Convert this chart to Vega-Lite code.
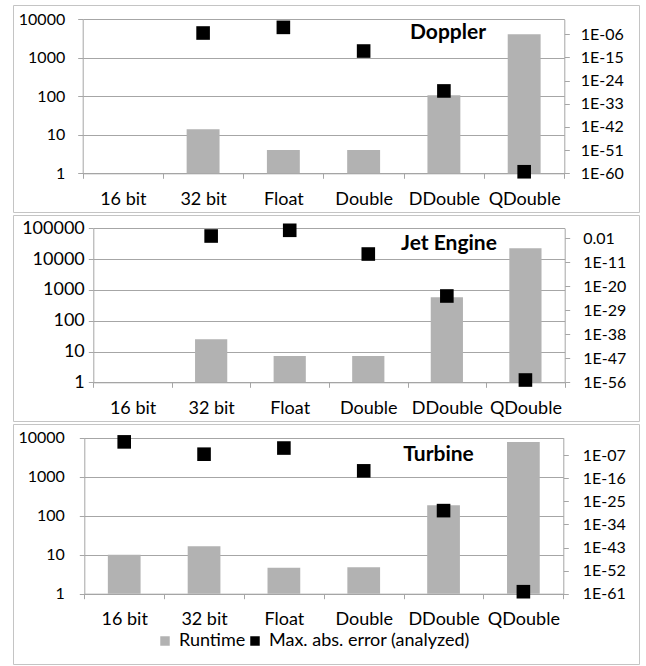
{
  "$schema": "https://vega.github.io/schema/vega-lite/v6.json",
  "background": "white",
  "padding": {"left": 12, "top": 4, "right": 8, "bottom": 1},
  "data": {"values": [
    {"panel": "Doppler", "precision": "16 bit", "runtime": null, "error": null},
    {"panel": "Doppler", "precision": "32 bit", "runtime": 13.9, "error": 3.2e-6},
    {"panel": "Doppler", "precision": "Float", "runtime": 4.0, "error": 5e-4},
    {"panel": "Doppler", "precision": "Double", "runtime": 4.0, "error": 3.2e-13},
    {"panel": "Doppler", "precision": "DDouble", "runtime": 106, "error": 1e-28},
    {"panel": "Doppler", "precision": "QDouble", "runtime": 4075, "error": 4e-60},
    {"panel": "Jet Engine", "precision": "16 bit", "runtime": null, "error": null},
    {"panel": "Jet Engine", "precision": "32 bit", "runtime": 25, "error": 0.072},
    {"panel": "Jet Engine", "precision": "Float", "runtime": 7.1, "error": 10},
    {"panel": "Jet Engine", "precision": "Double", "runtime": 7.1, "error": 1.26e-8},
    {"panel": "Jet Engine", "precision": "DDouble", "runtime": 575, "error": 2.3e-24},
    {"panel": "Jet Engine", "precision": "QDouble", "runtime": 22400, "error": 7.2e-56},
    {"panel": "Turbine", "precision": "16 bit", "runtime": 10, "error": 0.016},
    {"panel": "Turbine", "precision": "32 bit", "runtime": 16.4, "error": 2.5e-7},
    {"panel": "Turbine", "precision": "Float", "runtime": 4.6, "error": 6.3e-5},
    {"panel": "Turbine", "precision": "Double", "runtime": 4.8, "error": 8e-14},
    {"panel": "Turbine", "precision": "DDouble", "runtime": 185, "error": 2.5e-29},
    {"panel": "Turbine", "precision": "QDouble", "runtime": 7780, "error": 6e-61}
  ]},
  "spacing": 1,
  "vconcat": [
    {
      "width": 626, "height": 207,
      "title": {"text": "Doppler", "frame": "group", "anchor": "middle", "orient": "top", "offset": -49, "dx": 122, "baseline": "middle", "font": "Lato", "fontSize": 21, "fontWeight": "bold", "color": "#000"},
      "transform": [{"filter": "datum.panel === 'Doppler'"}],
      "layer": [
        {
          "mark": {"type": "bar", "color": "#b2b2b2", "width": {"band": 0.41}},
          "encoding": {
            "x": {"field": "precision", "type": "nominal", "sort": null,
              "scale": {"domain": ["16 bit", "32 bit", "Float", "Double", "DDouble", "QDouble"], "range": [69.7, 551.3], "paddingInner": 0, "paddingOuter": 0},
              "axis": {"title": null, "orient": "bottom", "offset": -38.7, "tickBand": "extent", "labelAngle": 0, "grid": false, "labelPadding": 12, "labelFontSize": 18}},
            "y": {"field": "runtime", "type": "quantitative",
              "scale": {"type": "log", "domain": [1, 10000], "range": [168.3, 14.3], "nice": false},
              "axis": {"title": null, "orient": "left", "offset": -69.7, "values": [1, 10, 100, 1000, 10000], "format": "d", "grid": true, "labelPadding": 13}},
            "y2": {"datum": 1}
          }
        },
        {
          "mark": {"type": "point", "shape": "square", "filled": true, "size": 185, "color": "#000", "opacity": 1},
          "encoding": {
            "x": {"field": "precision", "type": "nominal", "sort": null},
            "y": {"field": "error", "type": "quantitative",
              "scale": {"type": "log", "domain": [1e-60, 0.68], "range": [168.3, 14.3], "nice": false},
              "axis": {"title": null, "orient": "right", "offset": -74.7, "grid": false, "labelPadding": 11,
                "values": [1e-60, 1e-51, 1e-42, 1e-33, 1e-24, 1e-15, 1e-6],
                "labelExpr": "datum.value > 0.001 ? format(datum.value, '.2~f') : '1E-' + pad(toString(round(-log(datum.value)/LN10)), 2, '0', 'left')"}}
          }
        }
      ],
      "resolve": {"scale": {"y": "independent"}}
    },
    {
      "width": 626, "height": 206,
      "title": {"text": "Jet Engine", "frame": "group", "anchor": "middle", "orient": "top", "offset": -49.5, "dx": 123, "baseline": "middle", "font": "Lato", "fontSize": 21, "fontWeight": "bold", "color": "#000"},
      "transform": [{"filter": "datum.panel === 'Jet Engine'"}],
      "layer": [
        {
          "mark": {"type": "bar", "color": "#b2b2b2", "width": {"band": 0.41}},
          "encoding": {
            "x": {"field": "precision", "type": "nominal", "sort": null,
              "scale": {"domain": ["16 bit", "32 bit", "Float", "Double", "DDouble", "QDouble"], "range": [80.3, 551.7], "paddingInner": 0, "paddingOuter": 0},
              "axis": {"title": null, "orient": "bottom", "offset": -38.7, "tickBand": "extent", "labelAngle": 0, "grid": false, "labelPadding": 12, "labelFontSize": 18}},
            "y": {"field": "runtime", "type": "quantitative",
              "scale": {"type": "log", "domain": [1, 100000], "range": [167.3, 13.3], "nice": false},
              "axis": {"title": null, "orient": "left", "offset": -80.3, "values": [1, 10, 100, 1000, 10000, 100000], "format": "d", "grid": true, "labelPadding": 4, "labelFontSize": 18}},
            "y2": {"datum": 1}
          }
        },
        {
          "mark": {"type": "point", "shape": "square", "filled": true, "size": 185, "color": "#000", "opacity": 1},
          "encoding": {
            "x": {"field": "precision", "type": "nominal", "sort": null},
            "y": {"field": "error", "type": "quantitative",
              "scale": {"type": "log", "domain": [1e-56, 56], "range": [167.3, 13.3], "nice": false},
              "axis": {"title": null, "orient": "right", "offset": -74.3, "grid": false, "labelPadding": 13,
                "values": [1e-56, 1e-47, 1e-38, 1e-29, 1e-20, 1e-11, 0.01],
                "labelExpr": "datum.value > 0.001 ? format(datum.value, '.2~f') : '1E-' + pad(toString(round(-log(datum.value)/LN10)), 2, '0', 'left')"}}
          }
        }
      ],
      "resolve": {"scale": {"y": "independent"}}
    },
    {
      "width": 626, "height": 240,
      "title": {"text": "Turbine", "frame": "group", "anchor": "middle", "orient": "top", "offset": -52, "dx": 112.5, "baseline": "middle", "font": "Lato", "fontSize": 21, "fontWeight": "bold", "color": "#000"},
      "transform": [{"filter": "datum.panel === 'Turbine'"}],
      "layer": [
        {
          "mark": {"type": "bar", "width": {"band": 0.41}},
          "encoding": {
            "x": {"field": "precision", "type": "nominal", "sort": null,
              "scale": {"domain": ["16 bit", "32 bit", "Float", "Double", "DDouble", "QDouble"], "range": [71.3, 550.3], "paddingInner": 0, "paddingOuter": 0},
              "axis": {"title": null, "orient": "bottom", "offset": -70.3, "tickBand": "extent", "labelAngle": 0, "grid": false, "labelPadding": 12, "labelFontSize": 18}},
            "y": {"field": "runtime", "type": "quantitative",
              "scale": {"type": "log", "domain": [1, 10000], "range": [169.7, 13.7], "nice": false},
              "axis": {"title": null, "orient": "left", "offset": -71.3, "values": [1, 10, 100, 1000, 10000], "format": "d", "grid": true, "labelPadding": 15}},
            "y2": {"datum": 1},
            "color": {"datum": "Runtime", "type": "nominal",
              "scale": {"domain": ["Runtime", "Max. abs. error (analyzed)"], "range": ["#b2b2b2", "#000000"]},
              "legend": {"title": null, "orient": "none", "legendX": 143, "legendY": 627, "direction": "horizontal", "symbolType": "square", "symbolSize": 90, "symbolStrokeWidth": 0, "labelFont": "Lato", "labelFontSize": 18, "labelColor": "#000", "labelLimit": 400, "columnPadding": -2, "labelOffset": 5}}
          }
        },
        {
          "mark": {"type": "point", "shape": "square", "filled": true, "size": 185, "opacity": 1},
          "encoding": {
            "x": {"field": "precision", "type": "nominal", "sort": null},
            "y": {"field": "error", "type": "quantitative",
              "scale": {"type": "log", "domain": [1e-61, 0.68], "range": [169.7, 13.7], "nice": false},
              "axis": {"title": null, "orient": "right", "offset": -75.7, "grid": false, "labelPadding": 14,
                "values": [1e-61, 1e-52, 1e-43, 1e-34, 1e-25, 1e-16, 1e-7],
                "labelExpr": "datum.value > 0.001 ? format(datum.value, '.2~f') : '1E-' + pad(toString(round(-log(datum.value)/LN10)), 2, '0', 'left')"}},
            "color": {"datum": "Max. abs. error (analyzed)", "type": "nominal"}
          }
        }
      ],
      "resolve": {"scale": {"y": "independent"}}
    }
  ],
  "config": {
    "font": "Lato",
    "view": {"stroke": "#c4c4c4", "strokeWidth": 1},
    "axis": {"labelFont": "Lato", "labelFontSize": 16, "labelColor": "#000", "domainColor": "#a6a6a6", "tickColor": "#a6a6a6", "gridColor": "#a6a6a6", "gridOpacity": 1, "tickSize": 5, "labelOverlap": false, "labelFlush": false}
  }
}
